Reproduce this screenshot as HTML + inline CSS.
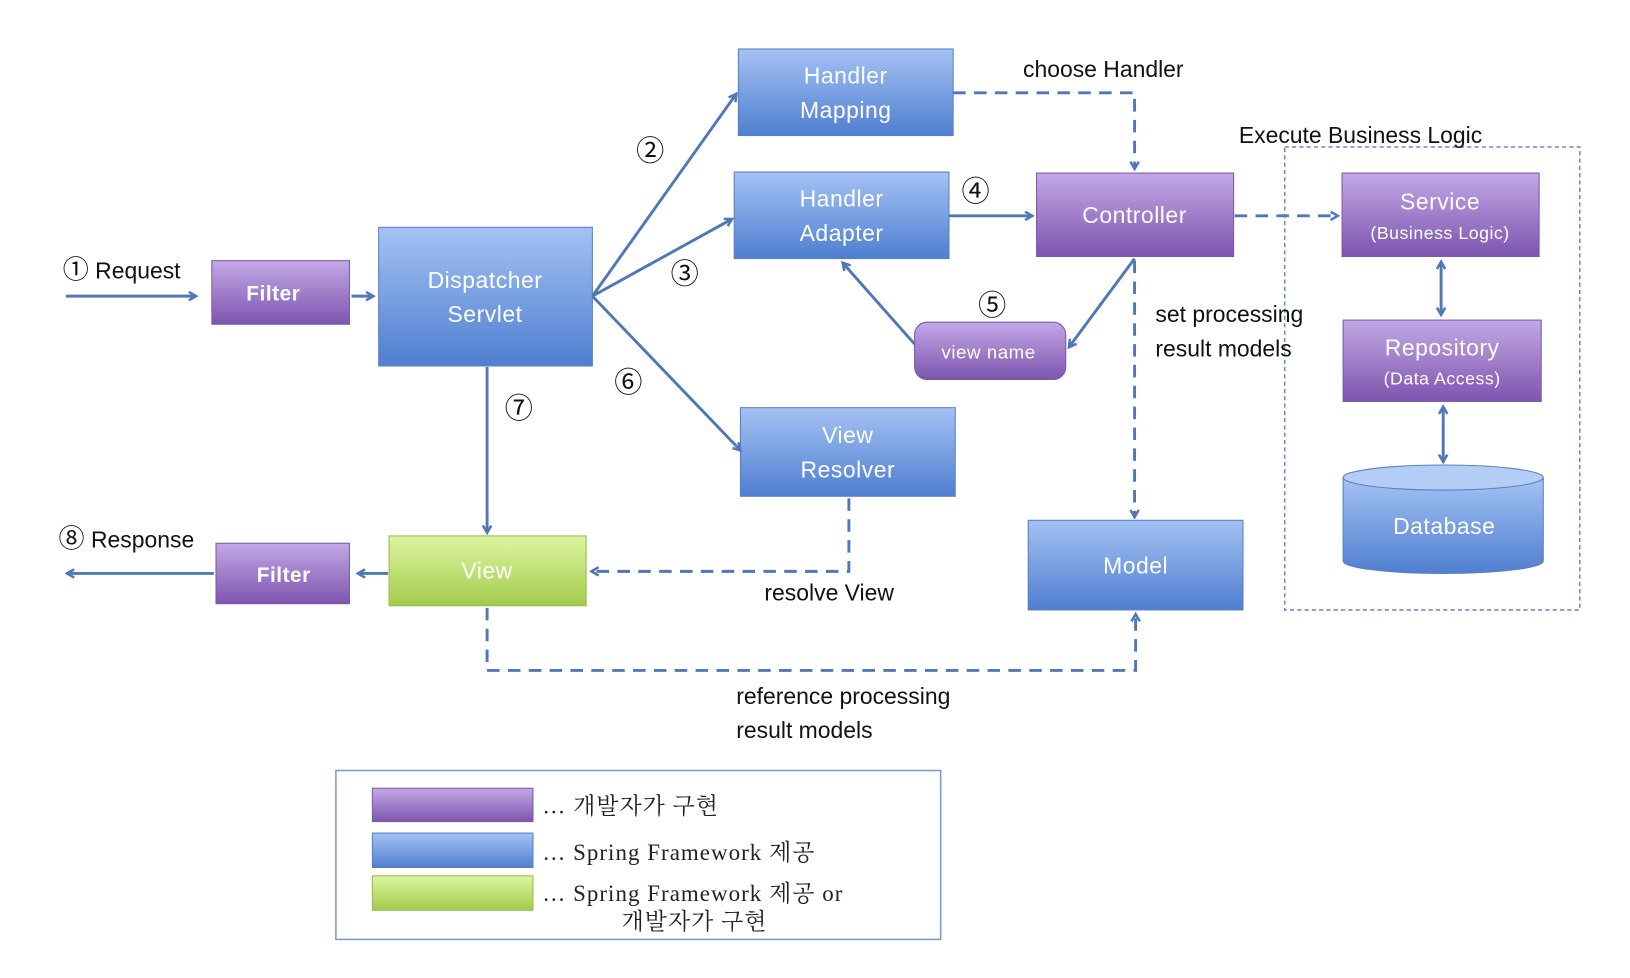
<!DOCTYPE html>
<html><head><meta charset="utf-8"><style>
html,body{margin:0;padding:0;background:#fff;}
svg{display:block}
text{font-family:"Liberation Sans","Noto Sans CJK KR",sans-serif;}
</style></head><body>
<svg width="1630" height="978" viewBox="0 0 1563 938" xmlns="http://www.w3.org/2000/svg">
<defs>
<linearGradient id="b" x1="0" y1="0" x2="0" y2="1"><stop offset="0" stop-color="#a4c2f4"/><stop offset="1" stop-color="#4f7fd0"/></linearGradient>
<linearGradient id="p" x1="0" y1="0" x2="0" y2="1"><stop offset="0" stop-color="#c3a8e6"/><stop offset="1" stop-color="#7d55ae"/></linearGradient>
<linearGradient id="g" x1="0" y1="0" x2="0" y2="1"><stop offset="0" stop-color="#def5a0"/><stop offset="1" stop-color="#a2cc4c"/></linearGradient>
<marker id="a" markerWidth="10" markerHeight="10" refX="8" refY="5" orient="auto" markerUnits="userSpaceOnUse"><path d="M1,1 L8,5 L1,9" fill="none" stroke="#5177b8" stroke-width="2.4"/></marker>
<marker id="as" markerWidth="10" markerHeight="10" refX="2" refY="5" orient="auto" markerUnits="userSpaceOnUse"><path d="M9,1 L2,5 L9,9" fill="none" stroke="#5177b8" stroke-width="2.4"/></marker>
</defs>
<g stroke="#5a7fc0" stroke-width="1">
<rect x="708" y="47" width="206" height="83" fill="url(#b)"/>
<rect x="704" y="165" width="206" height="83" fill="url(#b)"/>
<rect x="363" y="218" width="205" height="133" fill="url(#b)"/>
<rect x="710" y="391" width="206" height="85" fill="url(#b)"/>
<rect x="986" y="499" width="206" height="86" fill="url(#b)"/>
</g>
<g stroke="#7b58a8" stroke-width="1">
<rect x="994" y="166" width="189" height="80" fill="url(#p)"/>
<rect x="203" y="250" width="132" height="61" fill="url(#p)"/>
<rect x="207" y="521" width="128" height="58" fill="url(#p)"/>
<rect x="877" y="309" width="145" height="55" rx="12" fill="url(#p)"/>
<rect x="1287" y="166" width="189" height="80" fill="url(#p)"/>
<rect x="1288" y="307" width="190" height="78" fill="url(#p)"/>
</g>
<rect x="373" y="514" width="189" height="67" fill="url(#g)" stroke="#97bd48"/>
<path d="M1288,458 L1288,538 A96,12 0 0 0 1480,538 L1480,458" fill="url(#b)" stroke="#5a7fc0"/>
<ellipse cx="1384" cy="458" rx="96" ry="12" fill="#b4cdf5" stroke="#5a7fc0"/>
<rect x="1232" y="141" width="283" height="444" fill="none" stroke="#6c8ccc" stroke-width="1.5" stroke-dasharray="4,3"/>
<g stroke="#5177b8" stroke-width="2.8" fill="none">
<line x1="63" y1="284" x2="188" y2="284" marker-end="url(#a)"/>
<line x1="337" y1="284" x2="358" y2="284" marker-end="url(#a)"/>
<line x1="568" y1="284" x2="706" y2="90" marker-end="url(#a)"/>
<line x1="568" y1="284" x2="702" y2="210" marker-end="url(#a)"/>
<line x1="568" y1="284" x2="710" y2="432" marker-end="url(#a)"/>
<line x1="910" y1="207" x2="990" y2="207" marker-end="url(#a)"/>
<line x1="1088" y1="248" x2="1025" y2="333" marker-end="url(#a)"/>
<line x1="877" y1="330" x2="808" y2="252" marker-end="url(#a)"/>
<line x1="467" y1="352" x2="467" y2="511" marker-end="url(#a)"/>
<line x1="372" y1="550" x2="343" y2="550" marker-end="url(#a)"/>
<line x1="205" y1="550" x2="64" y2="550" marker-end="url(#a)"/>
<line x1="1382" y1="251" x2="1382" y2="302" marker-start="url(#as)" marker-end="url(#a)"/>
<line x1="1384" y1="390" x2="1384" y2="443" marker-start="url(#as)" marker-end="url(#a)"/>
<g stroke-dasharray="12,8">
<polyline points="914,89 1088,89 1088,162" marker-end="url(#a)"/>
<line x1="1184" y1="207" x2="1283" y2="207" marker-end="url(#a)"/>
<line x1="1088" y1="250" x2="1088" y2="496" marker-end="url(#a)"/>
<polyline points="814,478 814,548 567,548" marker-end="url(#a)"/>
<polyline points="467,583 467,643 1089,643 1089,589" marker-end="url(#a)"/>
</g>
</g>
<g fill="#fff" font-size="22" text-anchor="middle" letter-spacing="0.5">
<text x="811" y="80">Handler</text><text x="811" y="113">Mapping</text>
<text x="807" y="198">Handler</text><text x="807" y="231">Adapter</text>
<text x="465" y="276">Dispatcher</text><text x="465" y="309">Servlet</text>
<text x="813" y="425">View</text><text x="813" y="458">Resolver</text>
<text x="1089" y="550">Model</text>
<text x="1088" y="214">Controller</text>
<text x="948" y="344" font-size="18">view name</text>
<text x="467" y="555">View</text>
<text x="262" y="288" font-weight="bold" font-size="20">Filter</text>
<text x="272" y="558" font-weight="bold" font-size="20">Filter</text>
<text x="1381" y="201">Service</text><text x="1381" y="229" font-size="17">(Business Logic)</text>
<text x="1383" y="341">Repository</text><text x="1383" y="369" font-size="17">(Data Access)</text>
<text x="1385" y="512">Database</text>
</g>
<g fill="#111" font-size="22">
<text x="60" y="267"><tspan font-size="25">①</tspan> Request</text>
<text x="56" y="525"><tspan font-size="25">⑧</tspan> Response</text>
<text x="981" y="74">choose Handler</text>
<text x="1188" y="137">Execute Business Logic</text>
<text x="1108" y="309">set processing</text>
<text x="1108" y="342">result models</text>
<text x="733" y="576">resolve View</text>
<text x="706" y="675">reference processing</text>
<text x="706" y="708">result models</text>
<g font-size="27">
<text x="610" y="154">②</text>
<text x="643" y="272">③</text>
<text x="922" y="193">④</text>
<text x="938" y="302">⑤</text>
<text x="589" y="376">⑥</text>
<text x="484" y="401">⑦</text>
</g>
</g>
<rect x="322" y="739" width="580" height="162" fill="#fff" stroke="#7d9ad0" stroke-width="1.5"/>
<rect x="357" y="756" width="154" height="32" fill="url(#p)" stroke="#7b58a8"/>
<rect x="357" y="799" width="154" height="33" fill="url(#b)" stroke="#5a7fc0"/>
<rect x="357" y="840" width="154" height="33" fill="url(#g)" stroke="#97bd48"/>
<g fill="#222" font-size="22">
<text x="520" y="780" style="font-family:'Liberation Serif','Noto Serif CJK SC',serif" letter-spacing="1">… 개발자가 구현</text>
<text x="520" y="825" style="font-family:'Liberation Serif','Noto Serif CJK SC',serif" letter-spacing="1">… Spring Framework 제공</text>
<text x="520" y="864" style="font-family:'Liberation Serif','Noto Serif CJK SC',serif" letter-spacing="1">… Spring Framework 제공 or</text>
<text x="596" y="891" style="font-family:'Liberation Serif','Noto Serif CJK SC',serif" letter-spacing="1">개발자가 구현</text>
</g>
</svg>
</body></html>
